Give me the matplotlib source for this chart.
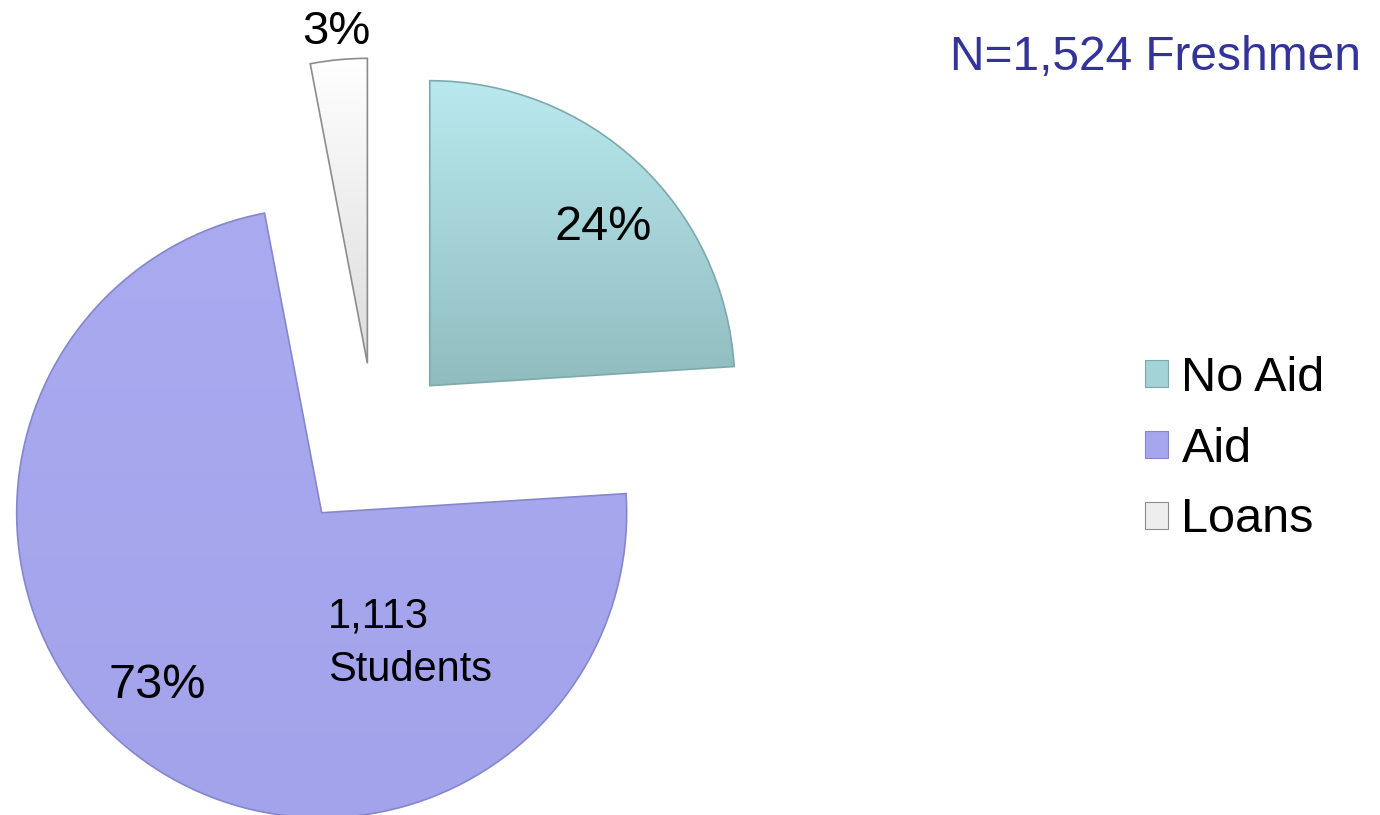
import matplotlib
matplotlib.use("Agg")
import matplotlib.pyplot as plt
import numpy as np
from matplotlib.colors import LinearSegmentedColormap, to_rgb
from matplotlib.patches import Patch

plt.rcParams["font.family"] = ["Liberation Sans", "DejaVu Sans"]

# data
categories = ["No Aid", "Aid", "Loans"]
shares = [24, 73, 3]          # percent of freshmen
total_n = 1524
aid_count = 1113

# style: (top colour, bottom colour, edge colour) per slice
GRAD = {"No Aid": ("#b9e9ee", "#90bcbf", "#7ea9ac"),
        "Aid": ("#a9aaf0", "#a2a3ea", "#8587cc"),
        "Loans": ("#ffffff", "#dcdcdc", "#8c8c8c")}
EXPLODE = [80, 87, 81]        # pixels, pie runs in pixel data units
W, H = 1380, 815


def gradient_fill(ax, wedge, top, bottom):
    x0, y0, x1, y1 = wedge.get_path().get_extents().extents
    cmap = LinearSegmentedColormap.from_list("g", [bottom, top])
    img = ax.imshow(np.linspace(0, 1, 256).reshape(-1, 1), cmap=cmap, origin="lower",
                    extent=(x0, x1, y0, y1), aspect="auto", zorder=2,
                    interpolation="bicubic")
    img.set_clip_path(wedge)


def mid(c1, c2):
    return tuple((a + b) / 2 for a, b in zip(to_rgb(c1), to_rgb(c2)))


fig = plt.figure(figsize=(W / 100, H / 100), dpi=100)
ax = fig.add_axes([0, 0, 1, 1])

wedges, _ = ax.pie(shares, explode=EXPLODE, startangle=90, counterclock=False,
                   center=(375, 371), radius=305, frame=True,
                   colors=[GRAD[c][1] for c in categories],
                   wedgeprops={"linewidth": 1.2})
for w, c in zip(wedges, categories):
    top, bottom, edge = GRAD[c]
    w.set_edgecolor(edge)
    w.set_zorder(3)
    w.set_facecolor("none")
    gradient_fill(ax, w, top, bottom)

# legend swatches use the slice's mid colour
handles = [Patch(facecolor=mid(GRAD[c][0], GRAD[c][1]), edgecolor=GRAD[c][2], linewidth=0.8)
           for c in categories]
ax.legend(handles, categories, loc="center left", bbox_to_anchor=(0.8297, 0.449),
          frameon=False, fontsize=35, handlelength=0.48, handleheight=0.48,
          handletextpad=0.27, labelspacing=0.53, borderpad=0, borderaxespad=0)

# slice labels
ax.text(336, H - 32, f"{shares[2]}%", fontsize=34, ha="center", va="center", zorder=5)
ax.text(603, H - 227, f"{shares[0]}%", fontsize=35, ha="center", va="center", zorder=5)
ax.text(157, H - 686, f"{shares[1]}%", fontsize=35, ha="center", va="center", zorder=5)
ax.text(328, H - 643, f"{aid_count:,}\nStudents", fontsize=30, ha="left", va="center",
        linespacing=1.45, zorder=5)
ax.text(1156, H - 57, f"N={total_n:,} Freshmen", fontsize=34.5, color="#333399",
        ha="center", va="center")

ax.set_xlim(0, W)
ax.set_ylim(0, H)
ax.set_aspect("equal")
ax.axis("off")
fig.savefig("out.png", dpi=100)
